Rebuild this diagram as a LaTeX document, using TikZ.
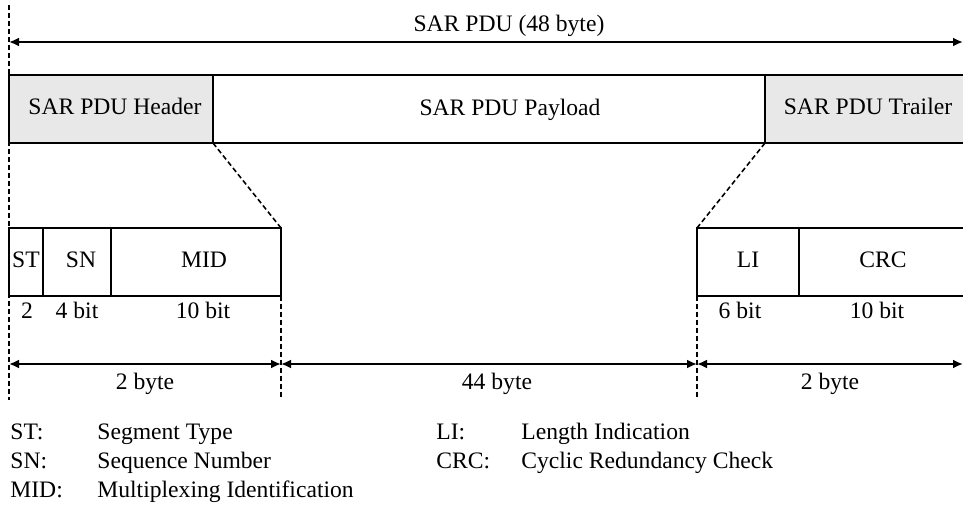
\documentclass[tikz,border=0pt]{standalone}
\usepackage{fontspec}
\setmainfont{Liberation Serif}
\usetikzlibrary{arrows.meta}
\tikzset{
  every node/.style={text height=8.5pt, text depth=2.5pt},
  field/.style={draw, line width=0.7pt, anchor=north west, inner sep=0pt, outer sep=0pt, minimum height=34pt},
  hdr/.style={field, fill=gray!18},
  seg/.style={field, fill=white},
  guide/.style={dash pattern=on 2.5pt off 1.5pt, line width=0.8pt},
  span/.style={{Latex[length=5pt,width=4.5pt]}-{Latex[length=5pt,width=4.5pt]}, line width=1.4pt},
  key/.style={anchor=west, inner sep=0pt}
}
\begin{document}
\begin{tikzpicture}[x=0.5pt,y=-0.5pt,font=\fontsize{11.8}{14}\selectfont]
\useasboundingbox (0,0) rectangle (963,507);
\coordinate (top) at (9,5);
\coordinate (bot) at (9,400);
\draw[guide] (top) -- (bot);
\coordinate (s0) at (9,42);
\coordinate (s1) at (963,42);
\draw[span] (s0) -- (s1);
\node (pdu) at (509,26) {SAR PDU (48 byte)};
\node[hdr, minimum width=102pt] (header) at (9,75) {\hspace*{4pt}SAR PDU Header};
\node[field, minimum width=276pt] (payload) at (header.north east) {};
\node (paytext) at (510,110) {SAR PDU Payload};
\node[hdr, minimum width=101pt] (trailer) at (payload.north east) {\hspace*{2pt}SAR PDU Trailer};
\node[seg, minimum width=17pt] (st) at (9,228) {ST};
\node[seg, minimum width=34pt] (sn) at (st.north east) {\hspace*{4pt}SN};
\node[seg, minimum width=85pt] (mid) at (sn.north east) {\hspace*{8pt}MID};
\node[seg, minimum width=51pt] (li) at (697,228) {LI};
\node[seg, minimum width=84pt] (crc) at (li.north east) {CRC};
\draw[guide] (header.south east) -- (mid.north east);
\draw[guide] (trailer.south west) -- (li.north west);
\coordinate (m1) at (mid.south east |- bot);
\coordinate (m2) at (li.south west |- bot);
\draw[guide] (mid.south east) -- (m1);
\draw[guide] (li.south west) -- (m2);
\node (bst) at (27,313) {2};
\node (bsn) at (77,313) {4 bit};
\node (bmid) at (203,313) {10 bit};
\node (bli) at (740,313) {6 bit};
\node (bcrc) at (877,313) {10 bit};
\coordinate (a0) at (9,364);
\coordinate (a1) at (mid.south east |- a0);
\coordinate (a2) at (li.south west |- a0);
\coordinate (a3) at (963,364);
\draw[span] (a0) -- (a1) node[midway,yshift=-9.5pt]{2 byte};
\draw[span] (a1) -- (a2) node[midway,yshift=-9.5pt,xshift=4pt]{44 byte};
\draw[span] (a2) -- (a3) node[midway,yshift=-9.5pt]{2 byte};
% legend
\node[key] (k1) at (10,433) {ST:};
\node[key] (k2) at (10,462) {SN:};
\node[key] (k3) at (10,491) {MID:};
\node[key] (t1) at (97,433) {Segment Type};
\node[key] (t2) at (97,462) {Sequence Number};
\node[key] (t3) at (97,491) {Multiplexing Identification};
\node[key] (k4) at (436,433) {LI:};
\node[key] (k5) at (436,462) {CRC:};
\node[key] (t4) at (521,433) {Length Indication};
\node[key] (t5) at (521,462) {Cyclic Redundancy Check};
\end{tikzpicture}
\end{document}
